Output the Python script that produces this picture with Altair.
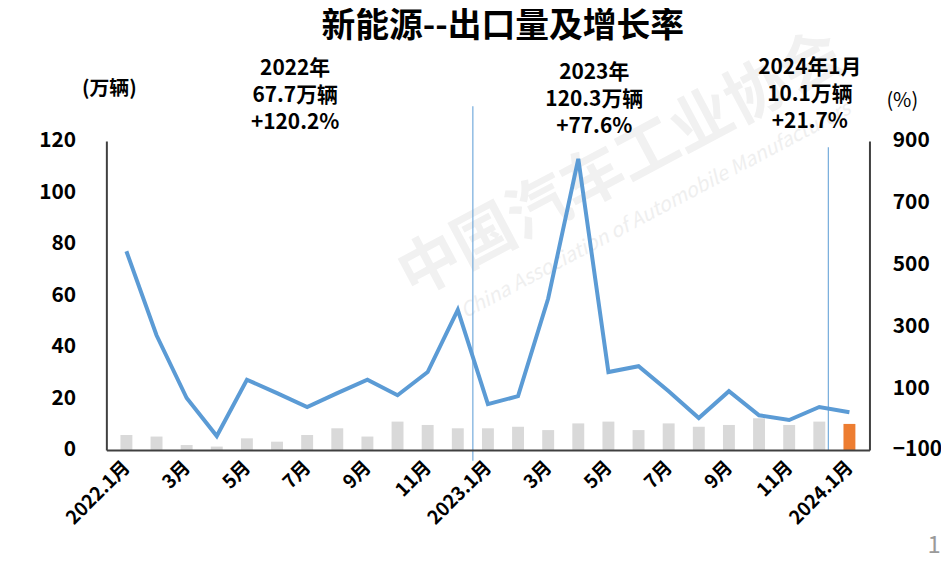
import altair as alt
import pandas as pd

# ---------------- data ----------------
months = ["2022.1月", "2月", "3月", "4月", "5月", "6月", "7月", "8月", "9月", "10月", "11月", "12月",
          "2023.1月", "2月", "3月", "4月", "5月", "6月", "7月", "8月", "9月", "10月", "11月", "12月",
          "2024.1月"]
export_vol = [5.8, 5.2, 1.9, 1.3, 4.5, 3.2, 5.8, 8.4, 5.2, 11.0, 9.7, 8.4,
              8.4, 9.0, 7.7, 10.3, 11.0, 7.7, 10.3, 9.0, 9.7, 12.3, 9.7, 11.0,
              10.1]
growth = [543, 271, 68, -55, 127, 84, 39, 84, 127, 77, 152, 353,
          48, 74, 390, 842, 152, 171, 90, 3, 90, 12, -3, 39,
          21.7]
highlight = ["no"] * 24 + ["yes"]

left_ticks = [0, 20, 40, 60, 80, 100, 120]
right_ticks = [-100, 100, 300, 500, 700, 900]
label_idx = list(range(0, 25, 2))

sep_x = [11.5, 23.3]
sep_top = [133.5, 117.5]
sep_bottom = [-4.2, 0]

title_text = "新能源--出口量及增长率"
ann_2022 = ["2022年", "67.7万辆", "+120.2%"]
ann_2023 = ["2023年", "120.3万辆", "+77.6%"]
ann_2024 = ["2024年1月", "10.1万辆", "+21.7%"]
left_unit = "(万辆)"
right_unit = "(%)"
page_no = "1"
wm_cn = "中国汽车工业协会"
wm_en = "China Association of Automobile Manufacturers"

df = pd.DataFrame({"idx": list(range(25)), "month": months, "vol": export_vol,
                   "growth": growth, "hl": highlight})
sep_df = pd.DataFrame({"x": sep_x, "top": sep_top, "bottom": sep_bottom})

FONT = "Noto Sans CJK SC"
W, H = 768, 311
PLOT_LEFT, PLOT_TOP = 107, 140   # page coordinates of plot origin

label_map = "{" + ",".join(f"'{i}':'{months[i]}'" for i in label_idx) + "}"

x_enc = alt.X("idx:Q",
              scale=alt.Scale(domain=[-0.5, 24.5], nice=False, zero=False),
              axis=alt.Axis(values=label_idx, labelExpr=f"{label_map}[datum.value]",
                            title=None, grid=False, ticks=False, zindex=1,
                            domainColor="#404040", domainWidth=2,
                            labelAngle=-45, labelAlign="right", labelBaseline="middle",
                            labelPadding=14, labelFont=FONT, labelFontSize=19,
                            labelFontWeight="bold", labelColor="#000000",
                            labelOverlap=False))

bars = alt.Chart(df).mark_bar(size=12).encode(
    x=x_enc,
    y=alt.Y("vol:Q", scale=alt.Scale(domain=[0, 120], nice=False),
            axis=alt.Axis(values=left_ticks, title=None, grid=False, ticks=False, zindex=1,
                          domainColor="#404040", domainWidth=2, labelPadding=31,
                          labelFont=FONT, labelFontSize=21, labelFontWeight="bold",
                          labelColor="#000000")),
    color=alt.Color("hl:N", scale=alt.Scale(domain=["no", "yes"], range=["#d9d9d9", "#ed7d31"]),
                    legend=None),
)

line = alt.Chart(df).mark_line(color="#5b9bd5", strokeWidth=4).encode(
    x=alt.X("idx:Q"),
    y=alt.Y("growth:Q", scale=alt.Scale(domain=[-100, 900], nice=False, zero=False),
            axis=alt.Axis(orient="right", values=right_ticks, title=None, grid=False,
                          ticks=False, zindex=1, domainColor="#404040", domainWidth=2,
                          labelPadding=23, labelFont=FONT, labelFontSize=21,
                          labelFontWeight="bold", labelColor="#000000")),
)

seps = alt.Chart(sep_df).mark_rule(color="#5b9bd5", strokeWidth=1.2, opacity=0.85).encode(
    x=alt.X("x:Q"),
    y=alt.Y("top:Q", scale=alt.Scale(domain=[0, 120], nice=False), axis=None),
    y2="bottom:Q",
)


def txt(s, px, py, size, weight="bold", color="#000000", angle=0, style="normal", lh=None):
    kw = dict(font=FONT, fontSize=size, fontWeight=weight, color=color,
              align="center", baseline="middle")
    if angle:
        kw["angle"] = angle
    if style != "normal":
        kw["fontStyle"] = style
    if lh:
        kw["lineBreak"] = "\n"
        kw["lineHeight"] = lh
    return alt.Chart(pd.DataFrame({"t": [s]})).mark_text(**kw).encode(
        text="t:N", x=alt.value(px - PLOT_LEFT), y=alt.value(py - PLOT_TOP))


back = [
    txt(wm_cn, 625, 165, 62, color="#f1f1f1", angle=332),
    txt(wm_en, 660, 210, 20, weight="normal", color="#efefef", angle=332, style="italic"),
]

front = [
    txt(title_text, 506, 25, 34),
    txt("\n".join(ann_2022), 297, 68, 21, lh=27),
    txt("\n".join(ann_2023), 598, 72, 21, lh=27),
    txt("\n".join(ann_2024), 815, 67, 21, lh=27),
    txt(left_unit, 110, 88, 20),
    txt(right_unit, 908, 100, 20, weight="normal"),
    txt(page_no, 940, 548, 24, weight="normal", color="#9a9a9a"),
]

chart = alt.layer(*back, bars, seps, line, *front).resolve_scale(
    y="independent"
).properties(
    width=W, height=H,
    autosize=alt.AutoSizeParams(type="none"),
    padding={"left": PLOT_LEFT - 8, "top": PLOT_TOP - 8, "right": 72, "bottom": 108},
).configure_view(stroke=None)

chart.save("out.html", embed_options={"renderer": "svg", "actions": False})
